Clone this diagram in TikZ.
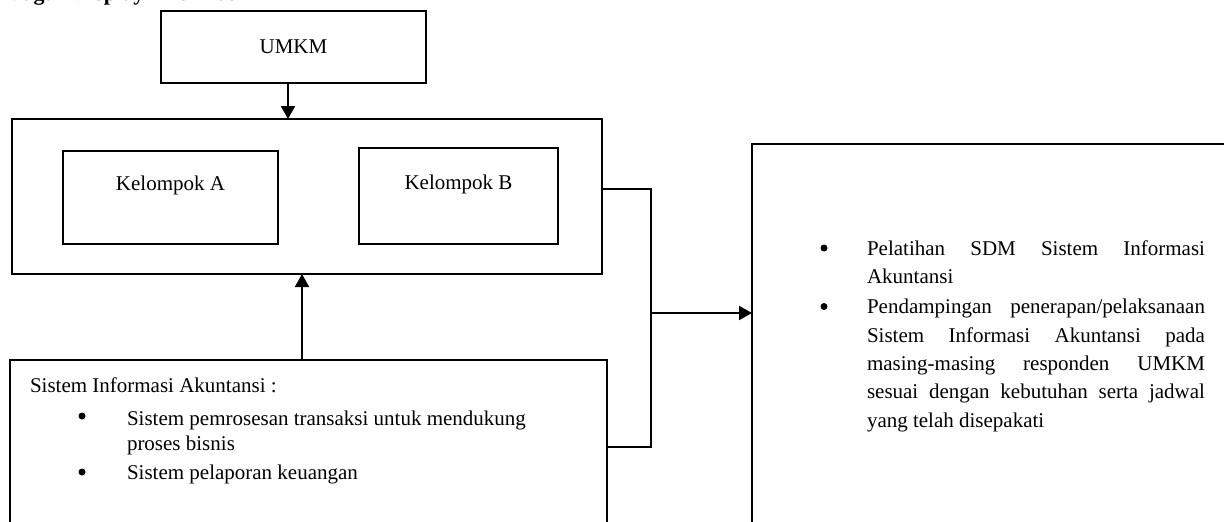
\documentclass[tikz,border=0pt]{standalone}
\usepackage{fontspec}
\setmainfont{Liberation Serif}
\usetikzlibrary{arrows.meta,calc}
\begin{document}
\begin{tikzpicture}[x=1pt,y=-1pt,
  every node/.style={font=\fontsize{21}{25}\selectfont},
  box/.style={draw=black,line width=1.3pt,inner sep=0pt,outer sep=0pt},
  txt/.style={anchor=base west,inner sep=0pt,outer sep=0pt},
  bul/.style={circle,fill=black,inner sep=0pt,minimum size=7pt},
  conn/.style={line width=1.9pt},
  arr/.style={conn,-{Triangle[length=13pt,width=14pt]}}]
\useasboundingbox (0,0) rectangle (1224,522);
\clip (0,0) rectangle (1224,522);

% cut-off heading
\node[txt,font=\fontsize{22}{25}\selectfont\bfseries] (head) at (8,1) {Bagan Display Informasi};

% top box
\node[box,minimum width=265pt,minimum height=72pt,text height=42pt,text depth=30pt] (umkm) at (293.5,47) {UMKM};

% group box
\node[box,line width=1.9pt,minimum width=590pt,minimum height=155pt] (grp) at (307,196.5) {};
\node[box,minimum width=215pt,minimum height=93pt,text height=39pt,text depth=54pt] (ka) at (170.5,197.5) {Kelompok A};
\node[box,minimum width=199pt,minimum height=96pt,text height=41pt,text depth=55pt] (kb) at (458.5,196) {Kelompok B};

% SIA box
\node[box,minimum width=597pt,minimum height=200pt] (sia) at (308.5,460) {};
\node[txt] (siah) at (30,392) {Sistem Informasi Akuntansi :};
\node[bul] (sb1) at (82,416) {};
\node[txt] (st1) at (127,425.5) {Sistem pemrosesan transaksi untuk mendukung};
\node[txt] (st2) at (127,450) {proses bisnis};
\node[bul] (sb2) at (82,472) {};
\node[txt] (st3) at (127,479) {Sistem pelaporan keuangan};

% right box
\node[box,minimum width=488pt,minimum height=416pt] (rb) at (996,352) {};
\node[bul] (rb1) at (824,248) {};
\node[txt] (r1) at (867,255) {\makebox[338pt][s]{Pelatihan SDM Sistem Informasi}};
\node[txt] (r2) at (867,283.5) {Akuntansi};
\node[bul] (rb2) at (824,306.5) {};
\node[txt] (r3) at (867,313) {\makebox[338pt][s]{Pendampingan penerapan/pelaksanaan}};
\node[txt] (r4) at (867,342) {\makebox[338pt][s]{Sistem Informasi Akuntansi pada}};
\node[txt] (r5) at (867,370) {\makebox[338pt][s]{masing-masing responden UMKM}};
\node[txt] (r6) at (867,398.5) {\makebox[338pt][s]{sesuai dengan kebutuhan serta jadwal}};
\node[txt] (r7) at (867,427) {yang telah disepakati};

% connectors
\draw[arr] ([xshift=-5.5pt]umkm.south) -- ([xshift=-5.5pt]umkm.south |- grp.north);
\coordinate (ua) at (302,0);
\draw[arr] (ua |- sia.north) -- (ua |- grp.south);
\coordinate (jt) at (651,189);
\coordinate (jb) at (651,447);
\coordinate (jm) at (651,313);
\draw[conn] (grp.east |- jt) -- (jt) -- (jb) -- (jb -| sia.east);
\draw[arr] (jm) -- (jm -| rb.west);
\end{tikzpicture}
\end{document}
